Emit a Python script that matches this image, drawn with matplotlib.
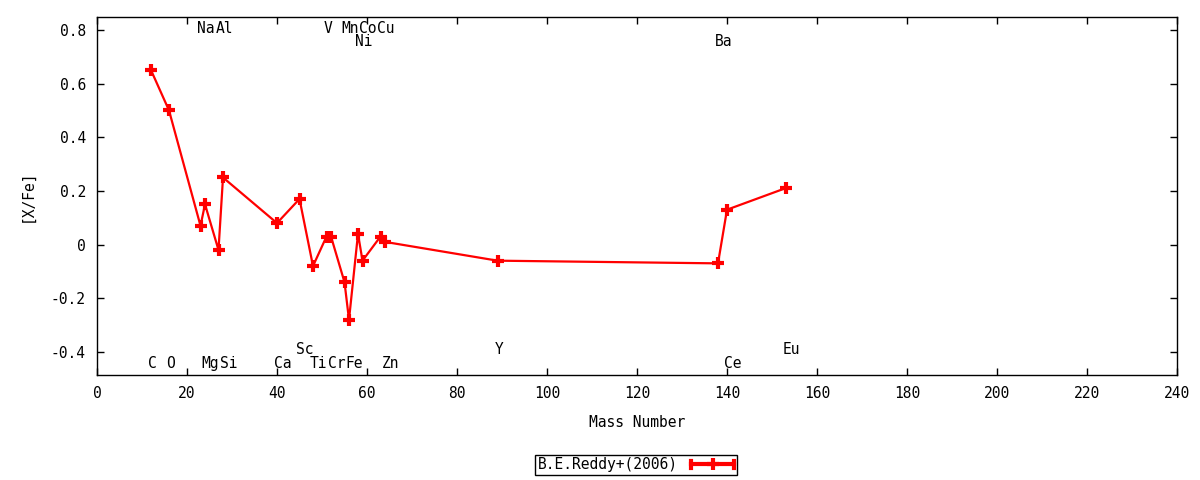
import matplotlib
matplotlib.use("Agg")
import matplotlib.pyplot as plt
from matplotlib.lines import Line2D
from matplotlib.legend_handler import HandlerBase
from matplotlib.ticker import FuncFormatter

# ---- data ----
elements = ["C", "O", "Na", "Mg", "Al", "Si", "Ca", "Sc", "Ti", "V", "Cr",
            "Mn", "Fe", "Ni", "Co", "Cu", "Zn", "Y", "Ba", "Ce", "Eu"]
mass = [12, 16, 23, 24, 27, 28, 40, 45, 48, 51, 52,
        55, 56, 58, 59, 63, 64, 89, 138, 140, 153]
xfe = [0.65, 0.50, 0.07, 0.15, -0.02, 0.25, 0.08, 0.17, -0.08, 0.03, 0.03,
       -0.14, -0.28, 0.04, -0.06, 0.03, 0.01, -0.06, -0.07, 0.13, 0.21]
series_label = "B.E.Reddy+(2006)"

# element labels (name, mass) grouped by label row
labels_top = [("Na", 23), ("Al", 27), ("V", 51), ("Mn", 55), ("Co", 59), ("Cu", 63)]
labels_top2 = [("Ni", 58), ("Ba", 138)]
labels_bot1 = [("Sc", 45), ("Y", 89), ("Eu", 153)]
labels_bot2 = [("C", 12), ("O", 16), ("Mg", 24), ("Si", 28), ("Ca", 40), ("Ti", 48),
               ("Cr", 52), ("Fe", 56), ("Zn", 64), ("Ce", 140)]
row_y = [0.807, 0.757, -0.391, -0.443]

xticks = list(range(0, 241, 20))
yticks = [-0.4, -0.2, 0, 0.2, 0.4, 0.6, 0.8]

FONT = "DejaVu Sans Mono"
plt.rcParams["font.family"] = [FONT, "DejaVu Sans"]
plt.rcParams["font.size"] = 10.5

fig = plt.figure(figsize=(12, 4.8), dpi=100)
ax = fig.add_axes([97 / 1200, 105 / 480, 1080 / 1200, 358 / 480])

ax.plot(mass, xfe, color="#ff0000", lw=1.6, marker="+", ms=9, mew=3,
        label=series_label)

for rows, yv in zip([labels_top, labels_top2, labels_bot1, labels_bot2], row_y):
    for name, m in rows:
        ax.text(m - 0.7, yv, name, ha="left", va="center", fontsize=10.5)

ax.set_xlim(0, 240)
ax.set_ylim(-0.486, 0.848)
ax.set_xticks(xticks)
ax.set_yticks(yticks)
ax.yaxis.set_major_formatter(FuncFormatter(lambda v, p: "0" if abs(v) < 1e-9 else f"{v:.1f}"))
ax.tick_params(direction="in", top=True, right=True, length=5, width=1, pad=8)
for s in ax.spines.values():
    s.set_linewidth(1)

ax.set_xlabel("Mass Number", labelpad=10)
ax.set_ylabel("[X/Fe]", labelpad=12)


class CapHandler(HandlerBase):
    def create_artists(self, legend, orig_handle, xdescent, ydescent, width,
                       height, fontsize, trans):
        y = height / 2 - ydescent
        x0 = -xdescent
        x1 = -xdescent + width
        h = height * 0.35
        arts = [
            Line2D([x0, x1], [y, y], color="#ff0000", lw=3),
            Line2D([(x0 + x1) / 2], [y], marker="+", ms=9, mew=3, color="#ff0000"),
            Line2D([x0, x0], [y - h, y + h], color="#ff0000", lw=3),
            Line2D([x1, x1], [y - h, y + h], color="#ff0000", lw=3),
        ]
        for a in arts:
            a.set_transform(trans)
        return arts


handles, labs = ax.get_legend_handles_labels()
leg = fig.legend(handles, labs, loc="center", bbox_to_anchor=(636 / 1200, 15 / 480),
                 markerfirst=False, handlelength=3.0, handletextpad=0.9,
                 borderpad=0.2, borderaxespad=0, fancybox=False,
                 edgecolor="black", framealpha=1,
                 handler_map={Line2D: CapHandler()})
leg.get_frame().set_linewidth(1)

fig.savefig("out.png", dpi=100)
